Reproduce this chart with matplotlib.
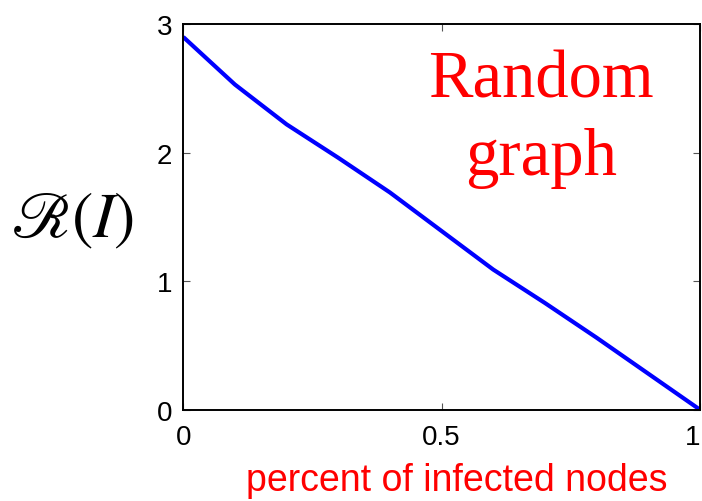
import numpy as np
import matplotlib
matplotlib.use("Agg")
import matplotlib.pyplot as plt

# =========================
# Data
# =========================
infected_frac = [0.0, 0.1, 0.2, 0.3, 0.4, 0.5, 0.6, 0.7, 0.8, 0.9, 1.0]
r_values = [2.90, 2.53, 2.22, 1.96, 1.69, 1.39, 1.09, 0.83, 0.56, 0.28, 0.0]

x_ticks = [0, 0.5, 1]
x_tick_labels = ["0", "0.5", "1"]
y_ticks = [0, 1, 2, 3]
y_tick_labels = ["0", "1", "2", "3"]

plt.rcParams["mathtext.fontset"] = "stix"
plt.rcParams["font.family"] = ["Liberation Sans", "DejaVu Sans"]

fig = plt.figure(figsize=(7.02, 5.02), dpi=100)
ax = fig.add_axes([0.261, 0.182, 0.736, 0.768])

ax.plot(infected_frac, r_values, color="#0000ff", linewidth=3.0, solid_capstyle="butt")

ax.set_xlim(0, 1)
ax.set_ylim(0, 3)
ax.set_xticks(x_ticks)
ax.set_xticklabels(x_tick_labels)
ax.set_yticks(y_ticks)
ax.set_yticklabels(y_tick_labels)
ax.tick_params(direction="in", length=5, width=0.8, color="#555555",
               top=True, right=True, labelsize=20)
ax.tick_params(axis="x", pad=10)
ax.tick_params(axis="y", pad=8)
# last x label would be cut at the figure edge
ax.get_xticklabels()[-1].set_horizontalalignment("right")
for spine in ax.spines.values():
    spine.set_linewidth(1.4)
    spine.set_color("black")

# x label sits right of centre in the reference
fig.text(0.650, 0.022, "percent of infected nodes", color="red", fontsize=27,
         ha="center", va="baseline")

fig.text(0.103, 0.56, r"$\mathscr{R}(I)$", fontsize=46, ha="center", va="center")

ax.text(0.692, 2.44, "Random", color="red", fontsize=48,
        family="Liberation Serif", ha="center", va="baseline")
ax.text(0.692, 1.83, "graph", color="red", fontsize=48,
        family="Liberation Serif", ha="center", va="baseline")

fig.savefig("out.png", dpi=100)
plt.close(fig)
